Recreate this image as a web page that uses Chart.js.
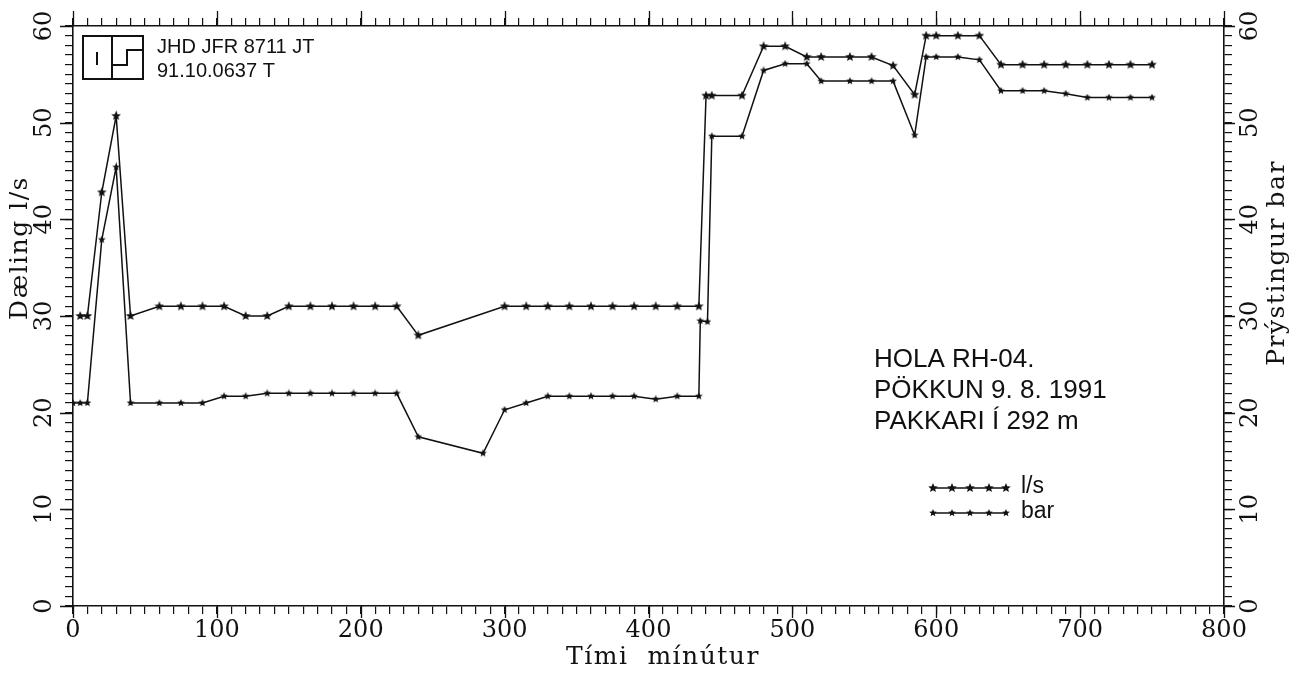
<!DOCTYPE html>
<html>
<head>
<meta charset="utf-8">
<script src="https://cdn.jsdelivr.net/npm/chart.js@4.4.0/dist/chart.umd.min.js"></script>
<style>
  html, body { margin: 0; padding: 0; background: #fff; }
</style>
</head>
<body>
<canvas id="pumpChart" width="1301" height="676"></canvas>
<script>
// Dæling (l/s) - upper line
const lsMinutes = [5, 10, 20, 30, 40, 60, 75, 90, 105, 120, 135, 150, 165, 180, 195, 210, 225, 240,
  300, 315, 330, 345, 360, 375, 390, 405, 420, 435, 440, 444, 465, 480, 495, 510, 520, 540, 555, 570,
  585, 593, 600, 615, 630, 645, 660, 675, 690, 705, 720, 735, 750];
const lsValues = [30, 30, 42.8, 50.7, 30, 31, 31, 31, 31, 30, 30, 31, 31, 31, 31, 31, 31, 28,
  31, 31, 31, 31, 31, 31, 31, 31, 31, 31, 52.8, 52.8, 52.8, 57.9, 57.9, 56.8, 56.8, 56.8, 56.8, 55.9,
  52.9, 59, 59, 59, 59, 56, 56, 56, 56, 56, 56, 56, 56];

// Þrýstingur (bar) - lower line
const barMinutes = [0, 5, 10, 20, 30, 40, 60, 75, 90, 105, 120, 135, 150, 165, 180, 195, 210, 225, 240,
  285, 300, 315, 330, 345, 360, 375, 390, 405, 420, 435, 436, 441, 444, 465, 480, 495, 510, 520, 540, 555, 570,
  585, 593, 600, 615, 630, 645, 660, 675, 690, 705, 720, 735, 750];
const barValues = [21, 21, 21, 37.9, 45.4, 21, 21, 21, 21, 21.7, 21.7, 22, 22, 22, 22, 22, 22, 22, 17.5,
  15.8, 20.3, 21, 21.7, 21.7, 21.7, 21.7, 21.7, 21.4, 21.7, 21.7, 29.5, 29.4, 48.6, 48.6, 55.4, 56.1, 56.1, 54.3, 54.3, 54.3, 54.3,
  48.7, 56.8, 56.8, 56.8, 56.5, 53.3, 53.3, 53.3, 53, 52.6, 52.6, 52.6, 52.6];

const xTickLabels = [0, 100, 200, 300, 400, 500, 600, 700, 800];
const yTickLabels = [0, 10, 20, 30, 40, 50, 60];

const ink = '#111';
const serif = 'DejaVu Serif';
const sans = 'Liberation Sans';

function makeStar(size) {
  var c = document.createElement('canvas');
  c.width = size; c.height = size;
  var g = c.getContext('2d');
  var cx = size / 2, cy = size / 2, R = size / 2, r = R * 0.45;
  g.beginPath();
  for (var i = 0; i < 10; i++) {
    var a = -Math.PI / 2 + i * Math.PI / 5;
    var rad = i % 2 ? r : R;
    g.lineTo(cx + rad * Math.cos(a), cy + rad * Math.sin(a));
  }
  g.closePath();
  g.fillStyle = ink;
  g.fill();
  return c;
}
var starBig = makeStar(10);
var starSmall = makeStar(8);

function toPoints(xs, ys) {
  return xs.map(function (x, i) { return { x: x, y: ys[i] }; });
}

function xLabel(v) { return xTickLabels.indexOf(v) >= 0 ? String(v) : ''; }
function yLabel(v) { return yTickLabels.indexOf(v) >= 0 ? String(v) : ''; }

function fixSize(prop, size) {
  return function (scale) { scale[prop] = size; };
}

var tickFont = { family: serif, size: 24 };
var gridOpts = { drawOnChartArea: false, color: ink, tickLength: 8, lineWidth: 1.2 };
var borderOpts = { color: ink, width: 1.6 };

// logo, notes, legend, axis titles and the longer major ticks
var decorations = {
  id: 'decorations',
  afterDraw: function (chart) {
    var ctx = chart.ctx;
    var area = chart.chartArea;
    var sx = chart.scales.x, sy = chart.scales.y;
    ctx.save();
    ctx.strokeStyle = ink;
    ctx.fillStyle = ink;

    // major ticks a bit longer than the minor ones
    ctx.lineWidth = 1.3;
    ctx.beginPath();
    xTickLabels.forEach(function (v) {
      var px = Math.round(sx.getPixelForValue(v)) + 0.5;
      ctx.moveTo(px, area.bottom); ctx.lineTo(px, area.bottom + 12);
      ctx.moveTo(px, area.top); ctx.lineTo(px, area.top - 15);
    });
    yTickLabels.forEach(function (v) {
      var py = Math.round(sy.getPixelForValue(v)) + 0.5;
      ctx.moveTo(area.left, py); ctx.lineTo(area.left - 13, py);
      ctx.moveTo(area.right, py); ctx.lineTo(area.right + 11, py);
    });
    ctx.stroke();

    // logo box
    ctx.lineWidth = 2;
    ctx.strokeRect(83, 36, 60, 43);
    ctx.beginPath();
    ctx.moveTo(112, 36); ctx.lineTo(112, 79);
    ctx.moveTo(97, 52); ctx.lineTo(97, 65);
    ctx.moveTo(143, 50); ctx.lineTo(127, 50); ctx.lineTo(127, 65); ctx.lineTo(113, 65);
    ctx.stroke();

    ctx.font = '20px "' + sans + '"';
    ctx.textBaseline = 'alphabetic';
    ctx.textAlign = 'left';
    ctx.fillText('JHD JFR 8711 JT', 157, 53);
    ctx.fillText('91.10.0637 T', 157, 77);

    ctx.font = '26px "' + sans + '"';
    ctx.fillText('HOLA RH-04.', 874, 367);
    ctx.fillText('PÖKKUN 9. 8. 1991', 874, 398);
    ctx.fillText('PAKKARI Í 292 m', 874, 429);

    // legend
    var rows = [{ y: 488, label: 'l/s', img: starBig }, { y: 513, label: 'bar', img: starSmall }];
    ctx.lineWidth = 1.4;
    ctx.font = '23px "' + sans + '"';
    ctx.textBaseline = 'middle';
    rows.forEach(function (r) {
      ctx.beginPath();
      ctx.moveTo(933, r.y); ctx.lineTo(1006, r.y);
      ctx.stroke();
      [933, 952, 970, 989, 1006].forEach(function (mx) {
        ctx.drawImage(r.img, mx - r.img.width / 2, r.y - r.img.height / 2);
      });
      ctx.fillText(r.label, 1021, r.y - 1);
    });

    // axis titles
    ctx.font = '25px "' + serif + '"';
    try { ctx.letterSpacing = '1.5px'; } catch (e) {}
    ctx.textAlign = 'center';
    ctx.textBaseline = 'middle';
    ctx.fillText('Tími  mínútur', 663, 657);

    ctx.save();
    ctx.translate(20, 248);
    ctx.rotate(-Math.PI / 2);
    ctx.fillText('Dæling l/s', 0, 0);
    ctx.restore();

    ctx.save();
    ctx.translate(1277, 263);
    ctx.rotate(-Math.PI / 2);
    ctx.fillText('Prýstingur bar', 0, 0);
    ctx.restore();

    ctx.restore();
  }
};

document.addEventListener('DOMContentLoaded', function () {
  var ctx = document.getElementById('pumpChart').getContext('2d');
  var pumpChart = new Chart(ctx, {
    type: 'line',
    data: {
      datasets: [{
        label: 'l/s',
        data: toPoints(lsMinutes, lsValues),
        xAxisID: 'x',
        yAxisID: 'y',
        borderColor: ink,
        borderWidth: 1.5,
        pointStyle: starBig,
        pointRadius: 5,
        tension: 0,
        fill: false
      }, {
        label: 'bar',
        data: toPoints(barMinutes, barValues),
        xAxisID: 'x',
        yAxisID: 'y2',
        borderColor: ink,
        borderWidth: 1.5,
        pointStyle: starSmall,
        pointRadius: 4,
        tension: 0,
        fill: false
      }]
    },
    options: {
      responsive: false,
      animation: false,
      layout: { padding: 0 },
      plugins: {
        legend: { display: false },
        tooltip: { enabled: false }
      },
      scales: {
        x: {
          type: 'linear', position: 'bottom', min: 0, max: 800,
          ticks: { stepSize: 10, autoSkip: false, maxRotation: 0, color: ink, font: tickFont, padding: 2, callback: xLabel },
          grid: gridOpts, border: borderOpts,
          afterFit: fixSize('height', 70)
        },
        x2: {
          type: 'linear', position: 'top', min: 0, max: 800,
          ticks: { stepSize: 10, autoSkip: false, display: false },
          grid: gridOpts, border: borderOpts,
          afterFit: fixSize('height', 26)
        },
        y: {
          type: 'linear', position: 'left', min: 0, max: 60,
          ticks: { stepSize: 1, autoSkip: false, minRotation: 90, crossAlign: 'center', color: ink, font: tickFont, padding: 5, callback: yLabel },
          grid: gridOpts, border: borderOpts,
          afterFit: fixSize('width', 73)
        },
        y2: {
          type: 'linear', position: 'right', min: 0, max: 60,
          ticks: { stepSize: 1, autoSkip: false, minRotation: 90, crossAlign: 'center', color: ink, font: tickFont, padding: 3, callback: yLabel },
          grid: gridOpts, border: borderOpts,
          afterFit: fixSize('width', 77)
        }
      }
    },
    plugins: [decorations]
  });
});
</script>
</body>
</html>
